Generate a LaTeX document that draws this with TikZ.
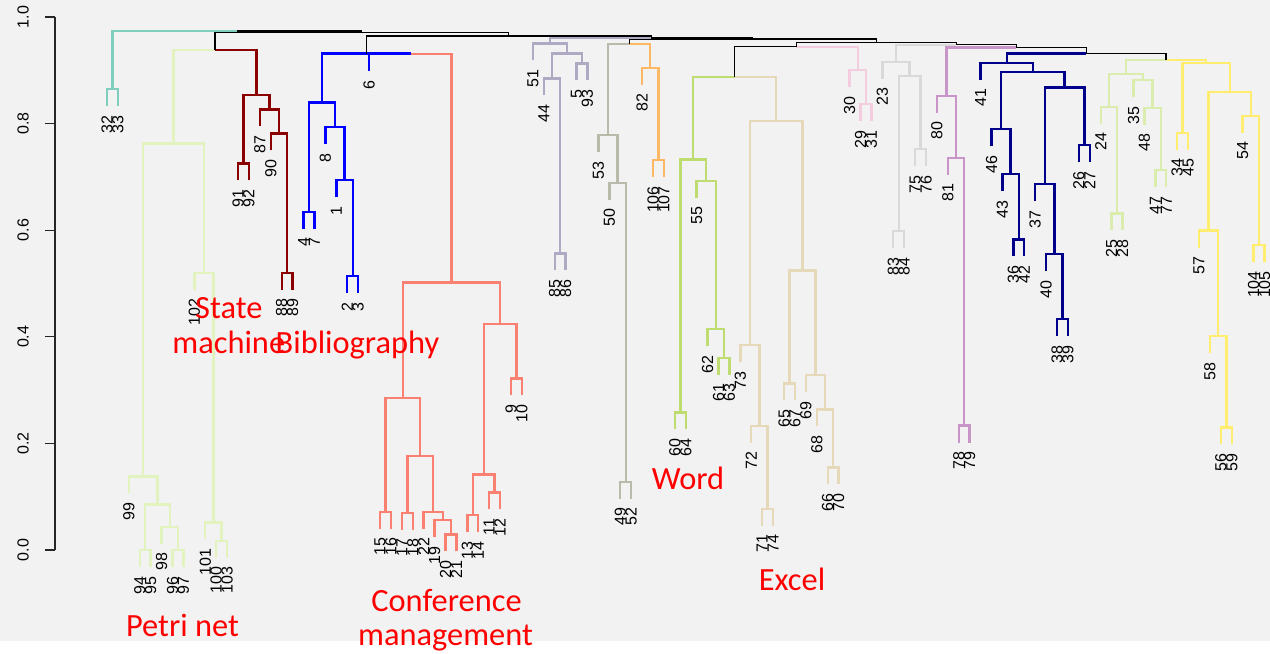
\documentclass[tikz,border=0pt]{standalone}
\usepackage{fontspec}
\setmainfont{Liberation Sans}
\newfontfamily\tagfont{Carlito}

\definecolor{bgc}{RGB}{242,242,242}
\definecolor{cteal}{RGB}{128,206,189}
\definecolor{cpetri}{RGB}{226,243,192}
\definecolor{cstate}{RGB}{139,0,0}
\definecolor{cbib}{RGB}{0,0,255}
\definecolor{cconf}{RGB}{250,128,114}
\definecolor{clav}{RGB}{176,169,196}
\definecolor{colive}{RGB}{185,186,170}
\definecolor{corange}{RGB}{253,184,99}
\definecolor{cword}{RGB}{190,220,112}
\definecolor{cexcel}{RGB}{229,217,185}
\definecolor{cpink}{RGB}{243,205,222}
\definecolor{cgray}{RGB}{217,217,217}
\definecolor{cpurple}{RGB}{201,148,199}
\definecolor{cnavy}{RGB}{0,0,139}
\definecolor{clg}{RGB}{218,237,172}
\definecolor{cyellow}{RGB}{255,237,111}

\tikzset{
  br/.style={line width=1.8pt},
  brtop/.style={draw=black, line width=0.9pt},
  brteal/.style={br, draw=cteal},
  brpetri/.style={br, draw=cpetri},
  brstate/.style={br, draw=cstate},
  brbib/.style={br, draw=cbib},
  brconf/.style={br, draw=cconf},
  brlav/.style={br, draw=clav},
  brolive/.style={br, draw=colive},
  brorange/.style={br, draw=corange},
  brword/.style={br, draw=cword},
  brexcel/.style={br, draw=cexcel},
  brpink/.style={br, draw=cpink},
  brgray/.style={br, draw=cgray},
  brpurple/.style={br, draw=cpurple},
  brnavy/.style={br, draw=cnavy},
  brlg/.style={br, draw=clg},
  bryellow/.style={br, draw=cyellow},
  axisline/.style={draw=black!85, line width=0.9pt},
  ticklab/.style={rotate=90, inner sep=0pt, font=\fontsize{12}{12}\selectfont},
  leaflab/.style={rotate=90, anchor=east, inner sep=0pt, font=\fontsize{12}{12}\selectfont},
  clab/.style={text=red, anchor=base, inner sep=0pt, font=\tagfont\fontsize{24.3}{28}\selectfont}
}

% leaf: position index, label
\newcommand{\lf}[2]{%
  \pgfmathsetmacro\lfx{107+10.92*#1}%
  \expandafter\xdef\csname px@#2\endcsname{\lfx}%
  \expandafter\gdef\csname lf@#2\endcsname{}}
% hang a leaf under the merge at height #2
\newcommand{\chld}[2]{%
  \ifcsname lf@#1\endcsname
    \edef\cx{\csname px@#1\endcsname}%
    \coordinate (#1) at (\cx,#2+17);
    \node[leaflab] (t#1) at (\cx,#2+26) {#1};
  \fi}
% merge: name, left, right, height, left style, right style
\newcommand{\mrgx}[6]{%
  \chld{#2}{#4}\chld{#3}{#4}%
  \edef\xa{\csname px@#2\endcsname}\edef\xb{\csname px@#3\endcsname}%
  \pgfmathsetmacro\mx{(\xa+\xb)/2}%
  \expandafter\xdef\csname px@#1\endcsname{\mx}%
  \coordinate (#1) at (\mx,#4);
  \draw[#5] (#2) |- (#1);
  \draw[#6] (#3) |- (#1);}
\newcommand{\mrg}[5]{\mrgx{#1}{#2}{#3}{#4}{#5}{#5}}

\begin{document}
\begin{tikzpicture}[x=0.75pt,y=-0.75pt]
\useasboundingbox (0,0) rectangle (1270,653);
\fill[bgc] (0,0) rectangle (1270,641);

% axis
\draw[axisline] (55,17) -- (55,550);
\foreach \v [count=\k] in {0.0,0.2,0.4,0.6,0.8,1.0}{
  \draw[axisline] (45,{550-533*\v}) -- (55,{550-533*\v});
  \node[ticklab] (tk\k) at (23,{550-533*\v}) {\v};
}

% leaves, left to right
\foreach \lab [count=\i from 0] in {32,33,99,94,95,98,96,97,102,101,100,103,91,92,87,90,88,89,4,7,8,1,2,3,6,15,16,17,18,22,19,20,21,13,14,11,12,9,10,51,44,85,86,5,93,53,50,49,52,82,106,107,60,64,55,62,61,63,73,72,71,74,65,67,69,68,66,70,30,29,31,23,83,84,75,76,80,81,78,79,41,46,43,36,42,37,40,38,39,26,27,24,25,28,35,48,47,77,34,45,57,58,56,59,54,104,105}
  {\lf{\i}{\lab}}

\mrg{m1}{32}{33}{89}{brteal}

% petri net
\mrg{p1}{94}{95}{550}{brpetri}
\mrg{p2}{96}{97}{550}{brpetri}
\mrg{p3}{98}{p2}{526.7}{brpetri}
\mrg{p4}{p1}{p3}{504.3}{brpetri}
\mrg{p5}{99}{p4}{476.3}{brpetri}
\mrg{p6}{100}{103}{540.7}{brpetri}
\mrg{p7}{101}{p6}{522.3}{brpetri}
\mrg{p8}{102}{p7}{272.7}{brpetri}
\mrg{p9}{p5}{p8}{143.3}{brpetri}

% state machine
\mrg{s1}{91}{92}{163.3}{brstate}
\mrg{s2}{88}{89}{272.7}{brstate}
\mrg{s3}{90}{s2}{133.3}{brstate}
\mrg{s4}{87}{s3}{109.3}{brstate}
\mrg{s5}{s1}{s4}{95}{brstate}
\mrgx{ps}{p9}{s5}{50}{brpetri}{brstate}

% bibliography
\mrg{b1}{4}{7}{211.7}{brbib}
\mrg{b2}{2}{3}{276}{brbib}
\mrg{b3}{1}{b2}{180}{brbib}
\mrg{b4}{8}{b3}{127}{brbib}
\mrg{b5}{b1}{b4}{102.3}{brbib}

% conference management
\mrg{c1}{15}{16}{511.7}{brconf}
\mrg{c2}{17}{18}{512.7}{brconf}
\mrg{c3}{20}{21}{534.3}{brconf}
\mrg{c4}{19}{c3}{520}{brconf}
\mrg{c5}{22}{c4}{511.7}{brconf}
\mrg{c6}{c2}{c5}{455.7}{brconf}
\mrg{c7}{c1}{c6}{397.7}{brconf}
\mrg{c8}{13}{14}{515}{brconf}
\mrg{c9}{11}{12}{492.3}{brconf}
\mrg{c10}{c8}{c9}{474.3}{brconf}
\mrg{c11}{9}{10}{378.3}{brconf}
\mrg{c12}{c10}{c11}{324}{brconf}
\mrg{c13}{c7}{c12}{282.3}{brconf}
\mrgx{b6}{6}{c13}{54}{brbib}{brconf}
\mrg{b7}{b5}{b6}{53.5}{brbib}

% lavender group
\mrg{g1}{85}{86}{253.3}{brlav}
\mrg{g2}{44}{g1}{78.3}{brlav}
\mrg{g3}{5}{93}{63.3}{brlav}
\mrg{g4}{g2}{g3}{53.3}{brlav}
\mrg{g5}{51}{g4}{43.3}{brlav}

% olive and orange
\mrg{o1}{49}{52}{481.7}{brolive}
\mrg{o2}{50}{o1}{182.7}{brolive}
\mrg{o3}{53}{o2}{135}{brolive}
\mrg{r1}{106}{107}{160}{brorange}
\mrg{r2}{82}{r1}{67.7}{brorange}
\mrgx{oo}{o3}{r2}{44}{brolive}{brorange}

% word
\mrg{w1}{60}{64}{412.3}{brword}
\mrg{w2}{61}{63}{357.7}{brword}
\mrg{w3}{62}{w2}{329}{brword}
\mrg{w4}{55}{w3}{180.7}{brword}
\mrg{w5}{w1}{w4}{159.3}{brword}

% excel
\mrg{e1}{71}{74}{508.7}{brexcel}
\mrg{e2}{72}{e1}{425.7}{brexcel}
\mrg{e3}{73}{e2}{345}{brexcel}
\mrg{e4}{65}{67}{383.3}{brexcel}
\mrg{e5}{66}{70}{467.3}{brexcel}
\mrg{e6}{68}{e5}{409.3}{brexcel}
\mrg{e7}{69}{e6}{375}{brexcel}
\mrg{e8}{e4}{e7}{270.5}{brexcel}
\mrg{e9}{e3}{e8}{121}{brexcel}
\mrgx{we}{w5}{e9}{76.7}{brword}{brexcel}

% pink
\mrg{k1}{29}{31}{104}{brpink}
\mrg{k2}{30}{k1}{70}{brpink}
\mrgx{sx}{we}{k2}{46.7}{brtop}{brpink}

% gray
\mrg{y1}{83}{84}{231}{brgray}
\mrg{y2}{75}{76}{149}{brgray}
\mrg{y3}{y1}{y2}{75.7}{brgray}
\mrg{y4}{23}{y3}{61.7}{brgray}

% purple
\mrg{u1}{78}{79}{425.5}{brpurple}
\mrg{u2}{81}{u1}{157.7}{brpurple}
\mrg{u3}{80}{u2}{95.7}{brpurple}

% navy
\mrg{n1}{36}{42}{239.3}{brnavy}
\mrg{n2}{43}{n1}{174}{brnavy}
\mrg{n3}{46}{n2}{129}{brnavy}
\mrg{n4}{38}{39}{319}{brnavy}
\mrg{n5}{40}{n4}{254}{brnavy}
\mrg{n6}{37}{n5}{184}{brnavy}
\mrg{n7}{26}{27}{145}{brnavy}
\mrg{n8}{n6}{n7}{87.3}{brnavy}
\mrg{n9}{n3}{n8}{71.7}{brnavy}
\mrg{n10}{41}{n9}{62.7}{brnavy}

% light green
\mrg{l1}{25}{28}{213.3}{brlg}
\mrg{l2}{24}{l1}{106.7}{brlg}
\mrg{l3}{47}{77}{170}{brlg}
\mrg{l4}{48}{l3}{107.7}{brlg}
\mrg{l5}{35}{l4}{80}{brlg}
\mrg{l6}{l2}{l5}{74}{brlg}

% yellow
\mrg{v1}{34}{45}{132.7}{bryellow}
\mrg{v2}{56}{59}{427.3}{bryellow}
\mrg{v3}{58}{v2}{336}{bryellow}
\mrg{v4}{57}{v3}{230.5}{bryellow}
\mrg{v5}{104}{105}{245}{bryellow}
\mrg{v6}{54}{v5}{115.7}{bryellow}
\mrg{v7}{v4}{v6}{91.7}{bryellow}
\mrg{v8}{v1}{v7}{62.7}{bryellow}
\mrgx{ly}{l6}{v8}{60}{brlg}{bryellow}

% top of the tree
\mrgx{nn}{n10}{ly}{53.5}{brnavy}{brtop}
\mrgx{pp}{u3}{nn}{47.3}{brpurple}{brtop}
\mrgx{qq}{y4}{pp}{44.7}{brgray}{brtop}
\mrg{rr}{sx}{qq}{42.3}{brtop}
\mrg{tt}{oo}{rr}{39}{brtop}
\mrgx{vv}{g5}{tt}{37.7}{brlav}{brtop}
\mrg{m3}{b7}{vv}{36}{brtop}
\mrg{rest}{ps}{m3}{32.3}{brtop}
\mrgx{root}{m1}{rest}{31}{brteal}{brtop}

% cluster names
\node[clab] (lstate) at (228.8,318) {State};
\node[clab] (lmachine) at (228.8,353.5) {machine};
\node[clab] (lbib) at (357.5,353.5) {Bibliography};
\node[clab] (lconf) at (446.5,611.7) {Conference};
\node[clab] (lmgmt) at (445.5,645) {management};
\node[clab] (lpetri) at (182.5,636.7) {Petri net};
\node[clab] (lword) at (688,489.3) {Word};
\node[clab] (lexcel) at (792,590) {Excel};
\end{tikzpicture}
\end{document}
